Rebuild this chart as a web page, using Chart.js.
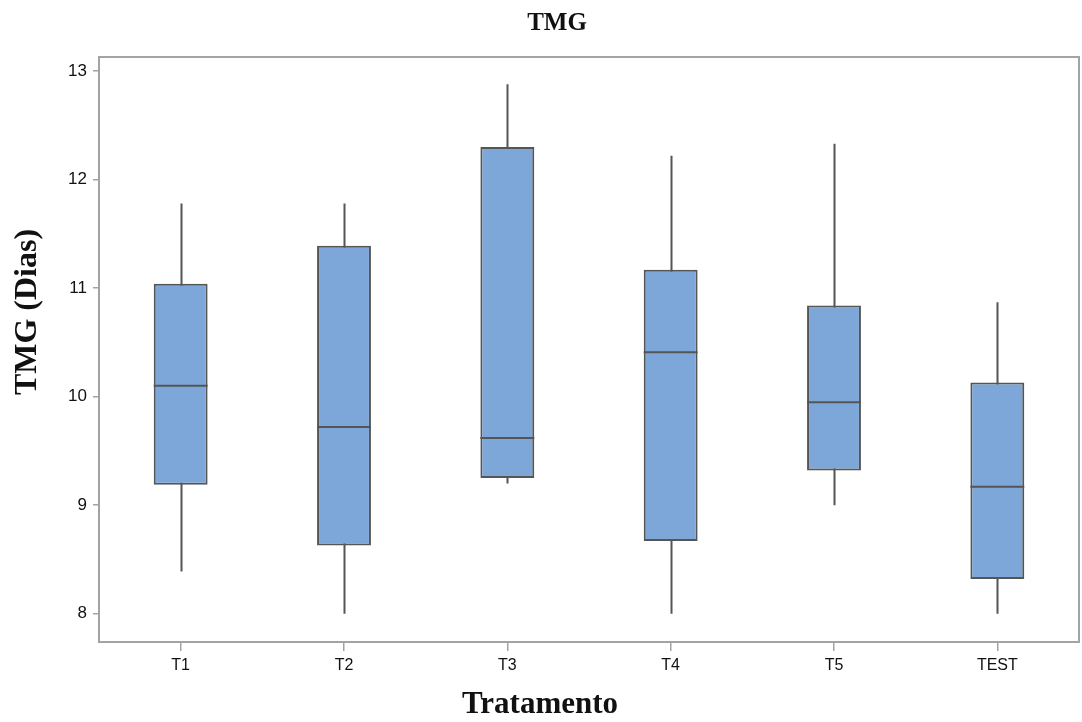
<!DOCTYPE html>
<html>
<head>
<meta charset="utf-8">
<title>TMG</title>
<script src="https://cdn.jsdelivr.net/npm/chart.js@4.4.1/dist/chart.umd.min.js"></script>
<style>
  html, body { margin: 0; padding: 0; background: #fff; }
  #wrap { width: 1082px; height: 722px; position: relative; }
</style>
</head>
<body>
<div id="wrap"><canvas id="boxChart"></canvas></div>
<script>
// tratamentos e resumo dos boxplots (dias)
const categorias = ['T1', 'T2', 'T3', 'T4', 'T5', 'TEST'];
const minimos  = [8.39, 8.00, 9.20, 8.00, 9.00, 8.00];
const quartil1 = [9.19, 8.63, 9.25, 8.67, 9.32, 8.32];
const medianas = [10.10, 9.72, 9.62, 10.41, 9.95, 9.17];
const quartil3 = [11.04, 11.39, 12.30, 11.17, 10.84, 10.13];
const maximos  = [11.78, 11.78, 12.88, 12.22, 12.33, 10.87];
const yTicks = [8, 9, 10, 11, 12, 13];

const caixas = categorias.map((c, i) => [quartil1[i], quartil3[i]]);

const boxPlugin = {
    id: 'boxExtras',
    beforeDatasetsDraw (chart) {
        const ctx = chart.ctx;
        const area = chart.chartArea;
        const x = chart.scales.x;
        const y = chart.scales.y;

        // moldura
        ctx.save();
        ctx.strokeStyle = '#a3a3a3';
        ctx.lineWidth = 2;
        ctx.strokeRect(area.left, area.top, area.right - area.left, area.bottom - area.top);

        // bigodes
        ctx.strokeStyle = '#555';
        ctx.lineWidth = 2;
        categorias.forEach((c, i) => {
            const px = Math.round(x.getPixelForValue(i)) + 0.5;
            ctx.beginPath();
            ctx.moveTo(px, y.getPixelForValue(maximos[i]));
            ctx.lineTo(px, y.getPixelForValue(minimos[i]));
            ctx.stroke();
        });
        ctx.restore();
    },
    afterDatasetsDraw (chart) {
        const ctx = chart.ctx;
        const y = chart.scales.y;
        const meta = chart.getDatasetMeta(0);
        ctx.save();
        ctx.strokeStyle = '#555';
        ctx.lineWidth = 2;
        meta.data.forEach((bar, i) => {
            const py = y.getPixelForValue(medianas[i]);
            ctx.beginPath();
            ctx.moveTo(bar.x - bar.width / 2, py);
            ctx.lineTo(bar.x + bar.width / 2, py);
            ctx.stroke();
        });
        ctx.restore();
    },
    afterDraw (chart) {
        const ctx = chart.ctx;
        ctx.save();
        ctx.fillStyle = '#111';
        ctx.textAlign = 'center';
        ctx.textBaseline = 'middle';

        ctx.font = 'bold 25px "Liberation Serif", "Times New Roman", serif';
        ctx.fillText('TMG', 557, 24);

        ctx.font = 'bold 31px "Liberation Serif", "Times New Roman", serif';
        ctx.fillText('Tratamento', 540, 705);

        ctx.translate(28, 312);
        ctx.rotate(-Math.PI / 2);
        ctx.font = 'bold 32px "Liberation Serif", "Times New Roman", serif';
        ctx.fillText('TMG (Dias)', 0, 0);
        ctx.restore();
    }
};

const chart = new Chart(document.getElementById('boxChart').getContext('2d'), {
    type: 'bar',
    data: {
        labels: categorias,
        datasets: [{
            label: 'TMG',
            data: caixas,
            backgroundColor: '#7ca7d8',
            borderColor: '#555',
            borderWidth: 2,
            borderSkipped: false,
            barPercentage: 0.33,
            categoryPercentage: 1
        }]
    },
    options: {
        responsive: true,
        maintainAspectRatio: false,
        animation: false,
        layout: { padding: { top: 57, right: 3, left: 0, bottom: 0 } },
        plugins: {
            legend: { display: false },
            tooltip: { enabled: false },
            title: { display: false }
        },
        scales: {
            x: {
                afterFit (scale) { scale.height = 80; },
                border: { display: false },
                grid: {
                    offset: false,
                    drawOnChartArea: false,
                    drawTicks: true,
                    tickLength: 9,
                    color: '#a3a3a3',
                    lineWidth: 1.5
                },
                ticks: {
                    color: '#111',
                    padding: 5,
                    font: { family: '"Liberation Sans", Arial, sans-serif', size: 16 }
                }
            },
            y: {
                min: 7.74,
                max: 13.13,
                afterFit (scale) { scale.width = 99; },
                afterBuildTicks (scale) { scale.ticks = yTicks.map(v => ({ value: v })); },
                border: { display: false },
                grid: {
                    drawOnChartArea: false,
                    drawTicks: true,
                    tickLength: 6,
                    color: '#a3a3a3',
                    lineWidth: 1.5
                },
                ticks: {
                    color: '#111',
                    padding: 6,
                    font: { family: '"Liberation Sans", Arial, sans-serif', size: 17 }
                }
            }
        }
    },
    plugins: [boxPlugin]
});
</script>
</body>
</html>
